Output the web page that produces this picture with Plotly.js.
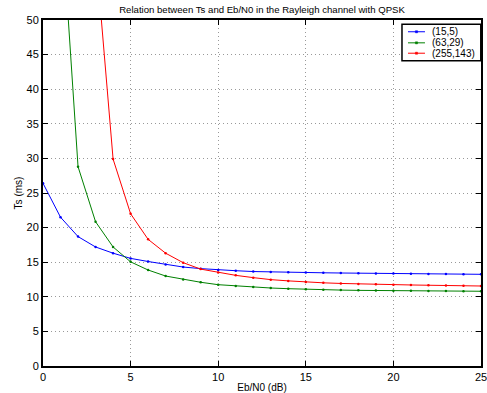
<!DOCTYPE html>
<html><head><meta charset="utf-8">
<script src="https://cdn.plot.ly/plotly-3.0.1.min.js"></script>
<style>html,body{margin:0;padding:0;background:#fff}#chart{width:487px;height:393px}</style>
</head><body><div id="chart"></div>
<script>
const ebn0 = [0,1,2,3,4,5,6,7,8,9,10,11,12,13,14,15,16,17,18,19,20,21,22,23,24,25];
const ts_15_5 = [26.4,21.5,18.7,17.2,16.3,15.55,15.1,14.65,14.3,14.07,13.87,13.77,13.65,13.58,13.53,13.5,13.47,13.44,13.41,13.38,13.35,13.33,13.31,13.29,13.27,13.25];
const ts_63_29 = [null,67,28.8,20.85,17.2,15.05,13.87,13.0,12.5,12.1,11.75,11.56,11.4,11.27,11.17,11.08,11.02,10.97,10.93,10.9,10.88,10.86,10.84,10.83,10.81,10.8];
const ts_255_143 = [null,null,null,60,29.9,22.0,18.3,16.3,14.93,14.0,13.5,13.1,12.77,12.48,12.3,12.14,12.02,11.93,11.85,11.8,11.75,11.71,11.67,11.63,11.6,11.56];
const names = ['(15,5)','(63,29)','(255,143)'];
const colors = ['#0000ff','#008000','#ff0000'];
const series = [ts_15_5, ts_63_29, ts_255_143];

const traces = series.map((y,i)=>({
  x: ebn0, y: y, name: names[i], type:'scatter', mode:'lines+markers', showlegend:false,
  line:{color:colors[i], width:1}, marker:{color:colors[i], size:2.5}, connectgaps:false
}));

const FF = 'Liberation Sans, Arial, sans-serif';
const axisCommon = {
  showline:true, linecolor:'#000', linewidth:2, mirror:'ticks',
  ticks:'inside', ticklen:5, tickwidth:1, tickcolor:'#000',
  showgrid:true, gridcolor:'#999', griddash:'1px,3px', gridwidth:1,
  zeroline:false, ticklabeloverflow:'allow', tickfont:{family:FF, size:11, color:'#000'}
};

// legend (box drawn in paper coordinates, like MATLAB's "NorthEast" legend)
const lg = {x0:0.8196, x1:0.9995, y0:0.8824, y1:0.9876, lineX0:0.8333, lineX1:0.8721, textX:0.8827};
const rowY = [0.966, 0.934, 0.904];
const shapes = [{type:'rect', xref:'paper', yref:'paper', x0:lg.x0, x1:lg.x1, y0:lg.y0, y1:lg.y1,
  line:{color:'#000', width:1.5}, fillcolor:'#fff', layer:'above'}];
const annotations = [];
names.forEach((n,i)=>{
  shapes.push({type:'line', xref:'paper', yref:'paper', x0:lg.lineX0, x1:lg.lineX1, y0:rowY[i], y1:rowY[i],
    line:{color:colors[i], width:1}, layer:'above'});
  const mx = (lg.lineX0+lg.lineX1)/2;
  shapes.push({type:'rect', xref:'paper', yref:'paper', x0:mx-0.0025, x1:mx+0.0025, y0:rowY[i]-0.003, y1:rowY[i]+0.003,
    line:{color:colors[i], width:0.5}, fillcolor:colors[i], layer:'above'});
  annotations.push({xref:'paper', yref:'paper', x:lg.textX, y:rowY[i], xanchor:'left', yanchor:'middle',
    text:n, showarrow:false, font:{family:FF, size:10, color:'#000'}});
});

const layout = {
  width:487, height:393,
  margin:{l:43, r:6, t:20, b:27},
  paper_bgcolor:'#fff', plot_bgcolor:'#fff',
  font:{family:FF, size:11, color:'#000'},
  showlegend:false,
  title:{text:'Relation between Ts and Eb/N0 in the Rayleigh channel with QPSK', font:{family:FF,size:9.6,color:'#000'}, xref:'paper', x:0.5, xanchor:'center', y:0.975, yanchor:'middle'},
  xaxis: Object.assign({}, axisCommon, {range:[0,25], dtick:5, tick0:0,
    title:{text:'Eb/N0 (dB)', font:{family:FF,size:10,color:'#000'}, standoff:4}}),
  yaxis: Object.assign({}, axisCommon, {range:[0,50], dtick:5, tick0:0,
    title:{text:'Ts (ms)', font:{family:FF,size:10,color:'#000'}, standoff:2}}),
  shapes: shapes,
  annotations: annotations
};
Plotly.newPlot('chart', traces, layout, {staticPlot:true, displayModeBar:false});
</script></body></html>
